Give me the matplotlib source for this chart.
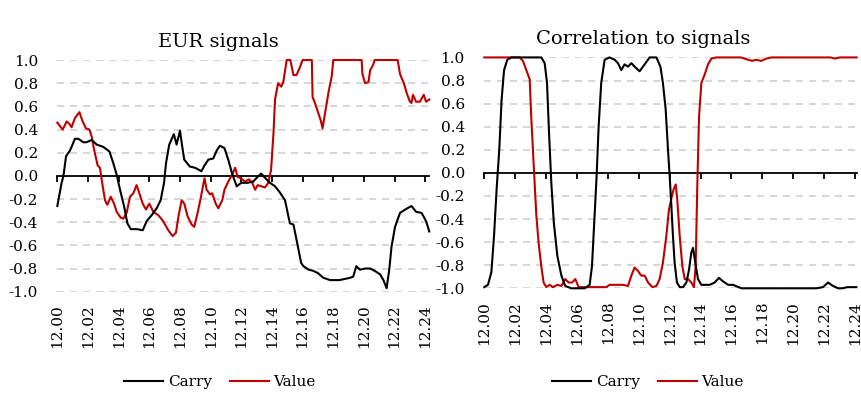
import numpy as np
import matplotlib
matplotlib.use("Agg")
import matplotlib.pyplot as plt
from matplotlib.lines import Line2D

#========================= data =======================

# minutes after 12.00
X_TICKS = list(range(0, 25, 2))
X_TICK_LABELS = ["12.%02d" % m for m in X_TICKS]
Y_TICKS = [1.0, 0.8, 0.6, 0.4, 0.2, 0.0, -0.2, -0.4, -0.6, -0.8, -1.0]

# EUR signals
eurCarryT = [0, 0.28, 0.4, 0.57, 0.83, 1.15, 1.37, 1.7, 1.9, 2.24,
             2.57, 3.0, 3.4, 3.65, 3.87, 4.09, 4.35, 4.57, 4.79, 5.2,
             5.57, 5.83, 6.15, 6.48, 6.74, 6.96, 7.09, 7.3, 7.6, 7.78,
             8.0, 8.15, 8.28, 8.65, 8.98, 9.4, 9.6, 9.85, 10.17, 10.4,
             10.6, 10.9, 11.15, 11.4, 11.7, 12.0, 12.4, 12.77, 13.05, 13.3,
             13.5, 13.87, 14.2, 14.5, 14.85, 15.17, 15.4, 15.6, 15.9, 16.05,
             16.4, 16.7, 17.0, 17.35, 17.8, 18.4, 19.1, 19.3, 19.5, 19.74,
             20.07, 20.4, 20.7, 21.05, 21.27, 21.48, 21.65, 21.8, 22.03, 22.35,
             22.7, 23.1, 23.4, 23.76, 24.05, 24.26]
eurCarry = [-0.26, -0.06, 0.0, 0.17, 0.22, 0.32, 0.32, 0.29, 0.29, 0.31,
            0.27, 0.25, 0.21, 0.11, 0.01, -0.12, -0.26, -0.41, -0.46, -0.46,
            -0.47, -0.39, -0.34, -0.28, -0.21, -0.06, 0.11, 0.27, 0.36, 0.27,
            0.39, 0.25, 0.14, 0.08, 0.07, 0.04, 0.09, 0.14, 0.15, 0.22,
            0.26, 0.24, 0.14, 0.02, -0.09, -0.06, -0.06, -0.05, -0.01, 0.02,
            -0.01, -0.06, -0.09, -0.14, -0.21, -0.41, -0.42, -0.55, -0.75, -0.78,
            -0.81, -0.82, -0.84, -0.88, -0.90, -0.90, -0.88, -0.87, -0.78, -0.81,
            -0.80, -0.80, -0.82, -0.85, -0.90, -0.97, -0.81, -0.61, -0.44, -0.32,
            -0.29, -0.26, -0.31, -0.32, -0.39, -0.48]

eurValueT = [0, 0.17, 0.35, 0.61, 0.78, 0.93, 1.15, 1.44, 1.65, 1.87,
             2.09, 2.24, 2.41, 2.63, 2.78, 2.96, 3.11, 3.26, 3.48, 3.7,
             3.87, 4.13, 4.3, 4.52, 4.74, 4.96, 5.17, 5.35, 5.57, 5.78,
             6.0, 6.26, 6.59, 6.9, 7.24, 7.52, 7.74, 7.9, 8.11, 8.28,
             8.5, 8.76, 8.93, 9.15, 9.37, 9.6, 9.74, 9.96, 10.1, 10.33,
             10.5, 10.76, 10.9, 11.15, 11.4, 11.6, 11.76, 11.98, 12.24, 12.5,
             12.72, 12.9, 13.07, 13.3, 13.55, 13.76, 13.94, 14.1, 14.2, 14.4,
             14.6, 14.74, 14.96, 15.2, 15.4, 15.6, 15.8, 16.0, 16.6, 16.65,
             16.8, 17.0, 17.18, 17.3, 17.46, 17.7, 17.9, 18.0, 19.85, 19.9,
             20.07, 20.3, 20.4, 20.6, 20.7, 22.2, 22.35, 22.6, 22.8, 23.0,
             23.1, 23.2, 23.4, 23.65, 23.9, 24.05, 24.26]
eurValue = [0.46, 0.43, 0.40, 0.47, 0.45, 0.42, 0.50, 0.55, 0.47, 0.41,
            0.40, 0.34, 0.22, 0.09, 0.07, -0.09, -0.21, -0.25, -0.18, -0.24,
            -0.31, -0.36, -0.37, -0.32, -0.18, -0.15, -0.08, -0.15, -0.24, -0.29,
            -0.24, -0.31, -0.34, -0.39, -0.47, -0.52, -0.49, -0.35, -0.21, -0.24,
            -0.35, -0.42, -0.44, -0.32, -0.18, -0.02, -0.12, -0.16, -0.15, -0.24,
            -0.28, -0.21, -0.12, -0.05, 0.01, 0.07, -0.01, -0.02, -0.05, -0.03,
            -0.06, -0.12, -0.08, -0.09, -0.10, -0.06, 0.05, 0.37, 0.66, 0.80,
            0.77, 0.81, 1.0, 1.0, 0.87, 0.87, 0.93, 1.0, 1.0, 0.68,
            0.63, 0.55, 0.48, 0.41, 0.54, 0.73, 0.86, 1.0, 1.0, 0.88,
            0.80, 0.81, 0.91, 0.96, 1.0, 1.0, 0.88, 0.80, 0.71, 0.64,
            0.63, 0.70, 0.64, 0.64, 0.70, 0.64, 0.66]

# Correlation to signals
corrCarryT = [0, 0.24, 0.46, 0.63, 0.8, 0.97, 1.12, 1.28, 1.49, 1.75,
              3.69, 3.91, 4.06, 4.19, 4.34, 4.5, 4.73, 4.99, 5.24, 5.63,
              6.5, 6.82, 6.97, 7.14, 7.27, 7.4, 7.57, 7.79, 8.1, 8.44,
              8.65, 8.87, 9.08, 9.3, 9.52, 9.73, 10.05, 10.38, 10.7, 11.14,
              11.4, 11.56, 11.74, 11.89, 12.0, 12.11, 12.2, 12.32, 12.47, 12.65,
              12.86, 13.08, 13.25, 13.4, 13.51, 13.66, 13.83, 14.05, 14.59, 14.91,
              15.19, 15.45, 15.78, 16.1, 16.64, 21.5, 21.92, 22.25, 22.57, 22.9,
              23.2, 23.5, 24.08]
corrCarry = [-0.99, -0.97, -0.86, -0.55, -0.14, 0.20, 0.63, 0.89, 0.98, 1.0,
             1.0, 0.95, 0.78, 0.35, -0.09, -0.43, -0.72, -0.89, -0.98, -1.0,
             -1.0, -0.97, -0.81, -0.37, -0.03, 0.40, 0.78, 0.98, 1.0, 0.98,
             0.95, 0.89, 0.94, 0.92, 0.95, 0.92, 0.88, 0.94, 1.0, 1.0,
             0.92, 0.78, 0.55, 0.20, -0.03, -0.29, -0.52, -0.78, -0.95, -0.99,
             -0.99, -0.95, -0.84, -0.69, -0.65, -0.78, -0.92, -0.97, -0.97, -0.95,
             -0.91, -0.94, -0.97, -0.97, -1.0, -1.0, -0.99, -0.95, -0.98, -1.0,
             -1.0, -0.99, -0.99]

corrValueT = [0, 2.29, 2.5, 2.72, 2.94, 3.04, 3.15, 3.26, 3.37, 3.52,
              3.69, 3.84, 4.01, 4.23, 4.45, 4.73, 4.99, 5.24, 5.46, 5.68,
              5.89, 6.11, 6.5, 7.9, 8.11, 8.54, 8.98, 9.3, 9.52, 9.73,
              9.95, 10.16, 10.38, 10.6, 10.88, 11.14, 11.35, 11.56, 11.78, 11.95,
              12.11, 12.26, 12.39, 12.49, 12.65, 12.82, 12.97, 13.19, 13.4, 13.57,
              13.68, 13.79, 13.9, 14.05, 14.26, 14.48, 14.7, 15.02, 16.6, 17.07,
              17.33, 17.6, 17.93, 18.25, 18.6, 22.4, 22.7, 23.0, 24.1]
corrValue = [1.0, 1.0, 0.97, 0.89, 0.81, 0.48, 0.20, -0.09, -0.37, -0.61,
             -0.81, -0.95, -0.99, -0.97, -0.99, -0.97, -0.98, -0.92, -0.95, -0.95,
             -0.92, -0.99, -0.99, -0.99, -0.97, -0.97, -0.97, -0.98, -0.89, -0.82,
             -0.85, -0.89, -0.89, -0.95, -0.99, -0.98, -0.92, -0.78, -0.55, -0.32,
             -0.22, -0.14, -0.10, -0.23, -0.55, -0.81, -0.92, -0.92, -0.95, -0.99,
             -0.81, -0.09, 0.49, 0.78, 0.85, 0.94, 0.99, 1.0, 1.0, 0.98,
             0.97, 0.98, 0.97, 0.99, 1.0, 1.0, 0.99, 1.0, 1.0]

#========================= style =======================

CARRY_COLOR = "black"
VALUE_COLOR = "#C00000"
GRID_COLOR = "#D0D0D0"
LINE_WIDTH = 1.5
FONT = "DejaVu Serif"

plt.rcParams["font.family"] = FONT
plt.rcParams["font.size"] = 11


def drawPanel(fig, rect, title, titleX, xmax, carryT, carry, valueT, value, legendX):
    ax = fig.add_axes(rect)
    ax.set_xlim(0, xmax)
    ax.set_ylim(-1, 1)

    # 虚线网格
    for y in Y_TICKS:
        if y != 0:
            ax.axhline(y, color=GRID_COLOR, lw=1.2, dashes=(4.2, 3.6), zorder=0)

    ax.plot(carryT, carry, color=CARRY_COLOR, lw=LINE_WIDTH, clip_on=False, zorder=3)
    ax.plot(valueT, value, color=VALUE_COLOR, lw=LINE_WIDTH, clip_on=False, zorder=2)

    for side in ["top", "right", "left"]:
        ax.spines[side].set_visible(False)
    ax.spines["bottom"].set_position(("data", 0))
    ax.spines["bottom"].set_linewidth(1.3)
    ax.spines["bottom"].set_zorder(1)

    ax.set_yticks(Y_TICKS)
    ax.set_yticklabels(["%.1f" % y for y in Y_TICKS])
    ax.tick_params(axis="y", length=0, pad=14, labelsize=11)

    ax.set_xticks(X_TICKS)
    ax.tick_params(axis="x", direction="out", length=4, width=1.3, labelbottom=False)

    # 时间标签放在图底部
    sec = ax.secondary_xaxis(0.0)
    sec.set_xticks(X_TICKS)
    sec.set_xticklabels(X_TICK_LABELS, rotation=90)
    sec.tick_params(length=0, pad=9, labelsize=11)
    sec.spines["bottom"].set_visible(False)

    ax.set_title(title, fontsize=14, x=titleX, pad=9.5)

    handles = [Line2D([], [], color=CARRY_COLOR, lw=LINE_WIDTH),
               Line2D([], [], color=VALUE_COLOR, lw=LINE_WIDTH)]
    fig.legend(handles, ["Carry", "Value"], loc="center", bbox_to_anchor=(legendX, 0.035),
               ncol=2, frameon=False, fontsize=11, handlelength=2.55, handletextpad=0.3,
               columnspacing=1.2)
    return ax


fig = plt.figure(figsize=(8.62, 3.96), dpi=100)

drawPanel(fig, [0.0665, 0.2634, 0.4313, 0.585], "EUR signals", 0.434, 24.25,
          eurCarryT, eurCarry, eurValueT, eurValue, 220 / 862)
drawPanel(fig, [0.5618, 0.272, 0.432, 0.583], "Correlation to signals", 0.428, 24.1,
          corrCarryT, corrCarry, corrValueT, corrValue, 648 / 862)

fig.savefig("out.png", dpi=100)
